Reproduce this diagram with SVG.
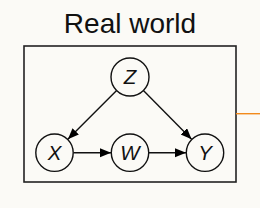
<svg xmlns="http://www.w3.org/2000/svg" width="260" height="208" viewBox="0 0 260 208">
<defs>
<marker id="ah" markerUnits="userSpaceOnUse" markerWidth="12" markerHeight="10" refX="11" refY="4.5" orient="auto">
<path d="M0,0 L11,4.5 L0,9 z" fill="#000"/>
</marker>
<style>
.node circle{fill:#fbfaf6;stroke:#111;stroke-width:1.4}
.node text{font-family:"Liberation Sans",Arial,sans-serif;font-style:italic;font-size:20.5px;fill:#111;text-anchor:middle}
.edge{stroke:#111;stroke-width:1.4;fill:none;marker-end:url(#ah)}
</style>
</defs>
<rect width="260" height="208" fill="#fbfaf6"/>
<text x="130" y="33" font-family="Liberation Sans, Arial, sans-serif" font-size="28" fill="#111" text-anchor="middle">Real world</text>
<g id="frame">
<rect x="24" y="46" width="212" height="136" fill="#fbfaf6" stroke="#222" stroke-width="1.6"/>
</g>
<line x1="236" y1="113.7" x2="260" y2="113.7" stroke="#f28a1c" stroke-width="1.4"/>
<g id="connectors">
<line class="edge" x1="116.6" y1="90.5" x2="67.9" y2="139.2"/>
<line class="edge" x1="143.4" y1="90.5" x2="191.6" y2="139.2"/>
<line class="edge" x1="73.5" y1="152.7" x2="111" y2="152.7"/>
<line class="edge" x1="149" y1="152.7" x2="186" y2="152.7"/>
</g>
<g id="Z" class="node"><circle cx="130" cy="77" r="19"/><text x="130" y="84.3">Z</text></g>
<g id="X" class="node"><circle cx="54.5" cy="152.7" r="18.7"/><text x="54.5" y="160">X</text></g>
<g id="W" class="node"><circle cx="130" cy="152.7" r="18.7"/><text x="130" y="160">W</text></g>
<g id="Y" class="node"><circle cx="205" cy="152.7" r="18.7"/><text x="205" y="160">Y</text></g>
</svg>
